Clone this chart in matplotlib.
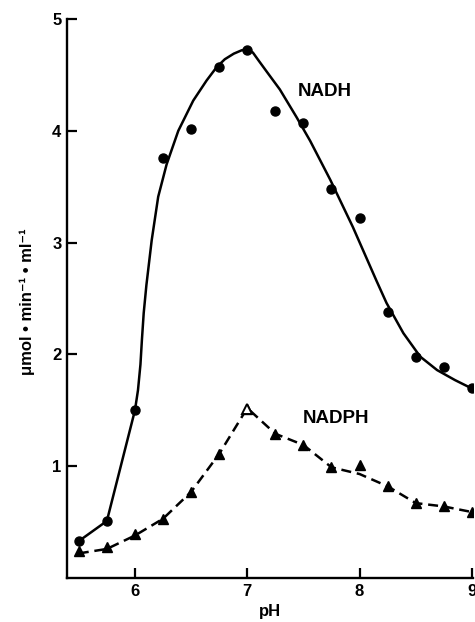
import matplotlib
matplotlib.use("Agg")
import matplotlib.pyplot as plt

plt.rcParams["font.family"] = ["Liberation Sans", "DejaVu Sans"]
plt.rcParams["font.weight"] = "bold"

# ─── Data ────────────────────────────────────────────────────────────────────
ph = [5.5, 5.75, 6.0, 6.25, 6.5, 6.75, 7.0, 7.25, 7.5, 7.75, 8.0, 8.25, 8.5, 8.75, 9.0]

nadh_pts = [0.33, 0.51, 1.50, 3.76, 4.02, 4.57, 4.72, 4.18, 4.07, 3.48, 3.22, 2.38, 1.98, 1.89, 1.70]
nadph_pts = [0.24, 0.28, 0.39, 0.53, 0.77, 1.11, 1.51, 1.29, 1.19, 0.99, 1.01, 0.82, 0.67, 0.64, 0.59]

# hand-drawn fit line through NADH
nadh_fit_ph = [5.5, 5.75, 6.0, 6.027, 6.049, 6.062, 6.078, 6.102, 6.149, 6.207, 6.282, 6.386,
               6.519, 6.638, 6.728, 6.80, 6.88, 6.95, 7.0, 7.05, 7.10, 7.18, 7.29,
               7.44, 7.56, 7.74, 7.94, 8.15, 8.24, 8.39, 8.54, 8.69, 8.85, 9.01]
nadh_fit = [0.33, 0.51, 1.50, 1.68, 1.91, 2.13, 2.37, 2.62, 3.02, 3.41, 3.70, 4.00,
            4.27, 4.45, 4.57, 4.64, 4.69, 4.72, 4.73, 4.70, 4.63, 4.52, 4.37,
            4.12, 3.91, 3.56, 3.14, 2.66, 2.46, 2.19, 1.98, 1.86, 1.77, 1.69]

# dashed NADPH line (passes under the pH 8 point)
nadph_fit = [0.22, 0.26, 0.38, 0.53, 0.77, 1.11, 1.52, 1.29, 1.19, 0.99, 0.93, 0.82, 0.67, 0.64, 0.59]

x_ticks = [6, 7, 8, 9]
y_ticks = [1, 2, 3, 4, 5]

# ─── Plot ────────────────────────────────────────────────────────────────────
fig = plt.figure(figsize=(4.75, 6.22), dpi=100)
ax = fig.add_axes([67 / 475, 44 / 622, 406 / 475, 559 / 622])

ax.plot(nadh_fit_ph, nadh_fit, color="black", lw=1.8, solid_joinstyle="round")
ax.plot(ph, nadh_pts, "o", color="black", ms=6.5, mec="black")

ax.plot(ph, nadph_fit, color="black", lw=1.8, dashes=(4, 2.3))
ax.plot(ph, nadph_pts, "^", color="black", ms=7)
# the peak triangle prints hollow
ax.plot(ph[6], nadph_pts[6], "^", ms=7, mfc="white", mec="black", mew=1.4)

ax.text(7.687, 4.35, "NADH", fontsize=13.5, fontweight="bold", ha="center", va="center")
ax.text(7.794, 1.43, "NADPH", fontsize=13.5, fontweight="bold", ha="center", va="center")

ax.set_xlim(5.395, 9.01)
ax.set_ylim(0, 5)
ax.set_xticks(x_ticks)
ax.set_yticks(y_ticks)

for s in ["top", "right"]:
    ax.spines[s].set_visible(False)
for s in ["left", "bottom"]:
    ax.spines[s].set_linewidth(1.7)

ax.tick_params(direction="in", length=7, width=1.6, labelsize=12, pad=4)
for lab in ax.get_xticklabels() + ax.get_yticklabels():
    lab.set_fontweight("bold")

ax.set_xlabel("pH", fontsize=12, fontweight="bold", labelpad=4)
fig.text(27 / 475, 1 - 302 / 622, "μmol • min⁻¹ • ml⁻¹", rotation=90,
         ha="center", va="center", fontsize=12, fontweight="bold")

fig.savefig("out.png", dpi=100)
